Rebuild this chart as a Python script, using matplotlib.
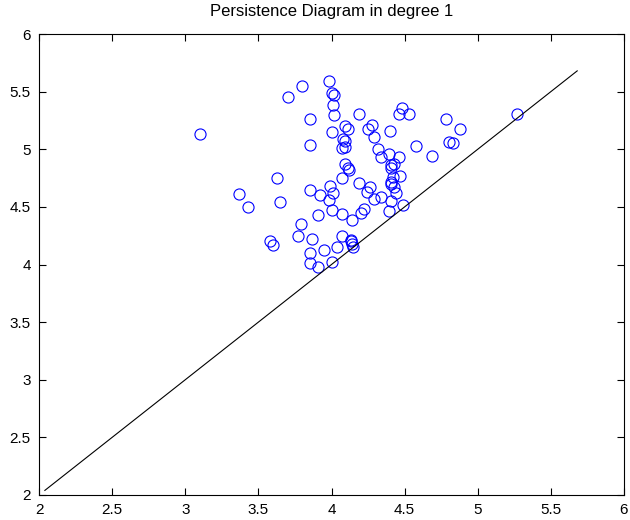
import matplotlib
matplotlib.use("Agg")
import matplotlib.pyplot as plt

birth = [3.10, 3.80, 3.70, 3.98, 4.00, 4.02, 4.01, 4.02, 3.85, 4.00,
         4.09, 4.11, 3.85, 4.08, 4.09, 4.07, 4.09, 4.09, 4.11, 4.12,
         4.19, 4.48, 4.46, 4.53, 4.78, 5.27, 4.25, 4.28, 4.29, 4.40,
         4.88, 4.58, 4.80, 4.83, 4.32, 4.34, 4.39, 4.46, 4.69, 4.41,
         4.43, 4.41, 4.07, 4.42, 4.47, 4.41, 4.19, 4.26, 4.41, 4.43,
         4.24, 4.29, 4.34, 4.44, 4.41, 4.49, 4.39, 4.22, 4.20, 4.14,
         4.07, 3.63, 3.37, 3.43, 3.65, 3.85, 3.92, 3.99, 4.01, 3.98,
         4.00, 3.91, 3.79, 3.77, 3.87, 4.07, 3.95, 4.04, 4.13, 4.13,
         4.14, 4.15, 3.58, 3.60, 3.85, 3.85, 3.91, 4.00]
death = [5.13, 5.55, 5.45, 5.59, 5.49, 5.47, 5.38, 5.30, 5.26, 5.15,
         5.20, 5.18, 5.04, 5.09, 5.07, 5.01, 5.02, 4.87, 4.84, 4.82,
         5.31, 5.36, 5.31, 5.31, 5.26, 5.31, 5.18, 5.21, 5.11, 5.16,
         5.18, 5.03, 5.06, 5.05, 5.00, 4.93, 4.96, 4.93, 4.94, 4.86,
         4.87, 4.84, 4.75, 4.76, 4.77, 4.72, 4.71, 4.67, 4.70, 4.67,
         4.63, 4.57, 4.59, 4.62, 4.55, 4.52, 4.46, 4.48, 4.45, 4.39,
         4.44, 4.75, 4.61, 4.50, 4.54, 4.65, 4.60, 4.68, 4.62, 4.56,
         4.47, 4.43, 4.35, 4.25, 4.22, 4.25, 4.13, 4.15, 4.21, 4.20,
         4.18, 4.15, 4.20, 4.17, 4.10, 4.01, 3.98, 4.02]
diag = [2.04, 5.68]
xticks = [2, 2.5, 3, 3.5, 4, 4.5, 5, 5.5, 6]
yticks = [2, 2.5, 3, 3.5, 4, 4.5, 5, 5.5, 6]
title = "Persistence Diagram in degree 1"

plt.rcParams['font.family'] = ['Liberation Sans', 'DejaVu Sans']
fig = plt.figure(figsize=(6.3, 5.2), dpi=100)
ax = fig.add_axes([39/630, 1-495/520, (624-39)/630, (495-34)/520])
ax.plot(birth, death, linestyle='none', marker='o', markersize=8,
        markerfacecolor='none', markeredgecolor='#0000ff', markeredgewidth=0.8)
ax.plot(diag, diag, color='black', linewidth=0.8)
ax.set_xlim(2, 6)
ax.set_ylim(2, 6)
ax.set_xticks(xticks)
ax.set_yticks(yticks)
ax.set_xticklabels([f"{t:g}" for t in xticks])
ax.set_yticklabels([f"{t:g}" for t in yticks])
ax.tick_params(direction='in', top=True, right=True, length=5, width=0.8,
               labelsize=11, pad=6)
for s in ax.spines.values():
    s.set_linewidth(0.8)
ax.set_title(title, fontsize=12, pad=13)
fig.savefig("out.png", dpi=100)
